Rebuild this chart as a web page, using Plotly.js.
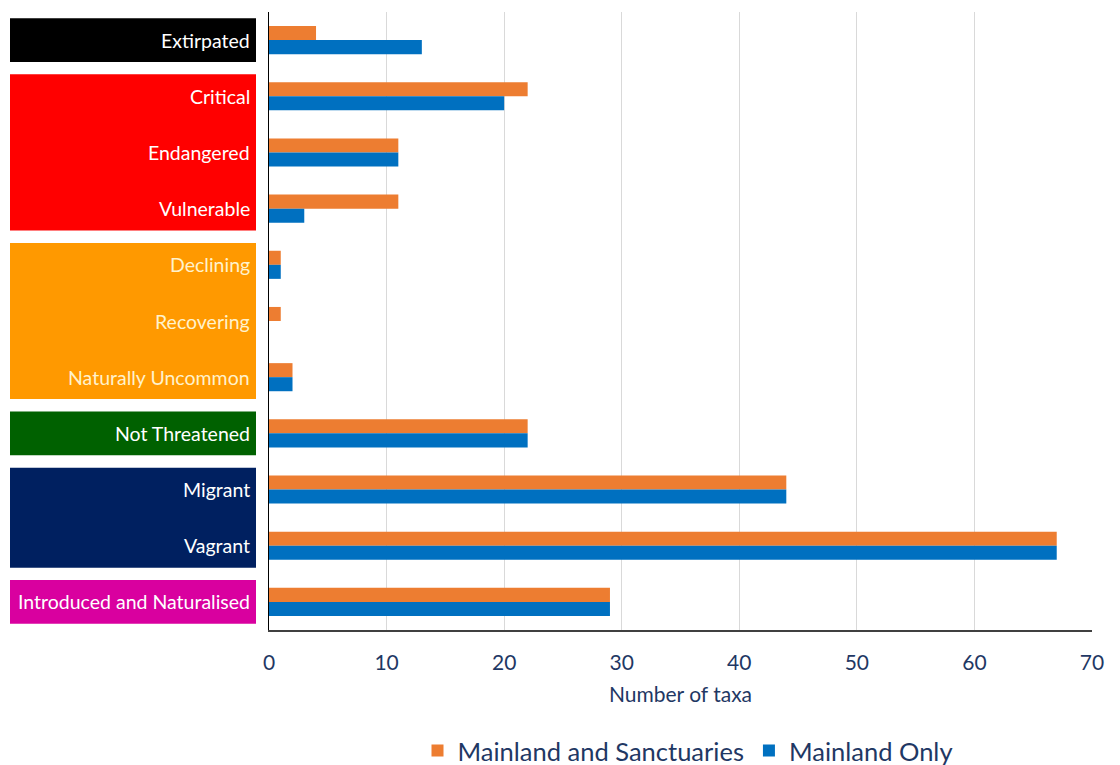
<!DOCTYPE html>
<html>
<head>
<meta charset="utf-8">
<script src="https://cdn.plot.ly/plotly-3.0.1.min.js"></script>
<style>html,body{margin:0;padding:0;background:#fff;}#chart{width:1120px;height:765px;}</style>
</head>
<body>
<div id="chart"></div>
<script>
const categories = ["Extirpated","Critical","Endangered","Vulnerable","Declining","Recovering","Naturally Uncommon","Not Threatened","Migrant","Vagrant","Introduced and Naturalised"];
const mainlandSanctuaries = [4,22,11,11,1,1,2,22,44,67,29];
const mainlandOnly = [13,20,11,3,1,0,2,22,44,67,29];
const seriesNames = ["Mainland and Sanctuaries","Mainland Only"];
const xTicks = [0,10,20,30,40,50,60,70];
// groups of categories with box colour and label colour
const groupStart = [0,1,4,7,8,10];
const groupEnd   = [0,3,6,7,9,10];
const groupFill  = ["#000000","#ff0000","#ff9900","#006100","#002060","#d9009f"];
const groupText  = ["#ffffff","#ffffff","#fff2cc","#ffffff","#ffffff","#ffffff"];

const FONT = "Lato, sans-serif";
const ML = 269, MR = 28, MT = 12, MB = 135, W = 1120, H = 765;
const PW = W - ML - MR;
const PH = H - MT - MB;
const px2paper = p => (p - ML) / PW;

const shapes = [];
const annotations = [];
for (let g = 0; g < groupStart.length; g++) {
  shapes.push({type:"rect", xref:"paper", yref:"y", layer:"below",
    x0: px2paper(10), x1: px2paper(256),
    y0: groupStart[g] - 0.39, y1: groupEnd[g] + 0.39,
    fillcolor: groupFill[g], line:{width:0}});
  for (let i = groupStart[g]; i <= groupEnd[g]; i++) {
    annotations.push({xref:"paper", yref:"y", x: px2paper(252), y: categories[i],
      text: categories[i], showarrow:false, xanchor:"right", yanchor:"middle",
      font:{family:FONT, size:19.5, color: groupText[g]}});
  }
}

const traces = [
  {type:"bar", orientation:"h", name: seriesNames[0], y: categories, x: mainlandSanctuaries,
   marker:{color:"#ed7d31"}},
  {type:"bar", orientation:"h", name: seriesNames[1], y: categories, x: mainlandOnly,
   marker:{color:"#0070c0"}}
];

const layout = {
  width: W, height: H,
  margin:{l:ML, r:MR, t:MT, b:MB, autoexpand:false},
  paper_bgcolor:"#ffffff", plot_bgcolor:"#ffffff",
  barmode:"group", bargap:0.5, bargroupgap:0,
  font:{family:FONT, color:"#1f3864"},
  xaxis:{range:[0,70], tickvals:xTicks, ticktext:xTicks.map(String),
    showgrid:true, gridcolor:"#d9d9d9", gridwidth:1, zeroline:false,
    showline:true, linecolor:"#404040", linewidth:1.5,
    ticks:"outside", ticklen:13, tickcolor:"rgba(0,0,0,0)",
    tickfont:{family:FONT, size:21, color:"#1f3864"},
    title:{text:"Number of taxa", font:{family:FONT, size:21, color:"#1f3864"}, standoff:14}},
  yaxis:{type:"category", autorange:"reversed", showticklabels:false,
    showgrid:false, zeroline:false, showline:true, linecolor:"#000000", linewidth:1.5, ticks:""},
  legend:{orientation:"h", x: px2paper(688), xanchor:"center", y:(630-751)/PH, yanchor:"middle",
    font:{family:FONT, size:25.5, color:"#1f3864"}, traceorder:"normal"},
  shapes: shapes,
  annotations: annotations,
  showlegend:true
};

Plotly.newPlot("chart", traces, layout, {displayModeBar:false, staticPlot:true});
</script>
</body>
</html>
